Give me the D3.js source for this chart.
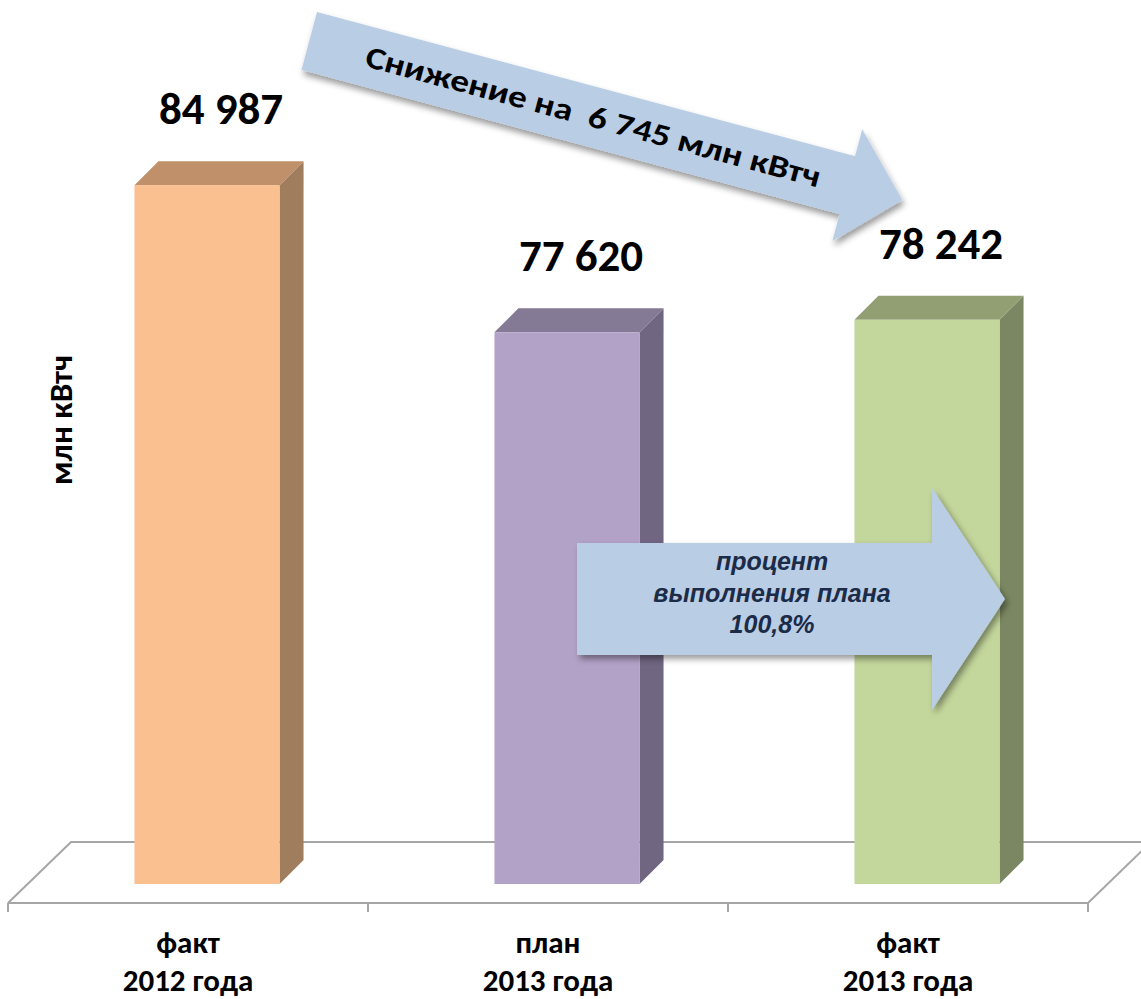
<!DOCTYPE html>
<html>
<head>
<meta charset="utf-8">
<script src="https://cdn.jsdelivr.net/npm/d3@7"></script>
<style>
  html, body { margin: 0; padding: 0; background: #ffffff; }
  svg { display: block; }
</style>
</head>
<body>
<svg id="chart" width="1141" height="999"></svg>
<script>
// ---------- data ----------
const categoriesLine1 = ["факт", "план", "факт"];
const categoriesLine2 = ["2012 года", "2013 года", "2013 года"];
const values = [84987, 77620, 78242];
const frontColors = ["#FAC090", "#B3A2C7", "#C3D69B"];
const topColors   = ["#BF9069", "#857A96", "#929F73"];
const sideColors  = ["#A07D5C", "#706682", "#7B8762"];
const axisTitle = "млн кВтч";
const decreaseText = "Снижение на  6 745 млн кВтч";
const planTextLines = ["процент", "выполнения плана", "100,8%"];
const yDomain = [50000, 90000];

// ---------- layout ----------
const svg = d3.select("#chart");
const floorFrontY = 903, floorDepth = 61;     // floor parallelogram
const barDepthFront = 19, barDepth = 24;      // bars sit inside the floor depth
const fontMain = "Carlito, Calibri, 'Open Sans', 'DejaVu Sans', sans-serif";

const xCat = d3.scaleBand().domain(d3.range(categoriesLine1.length)).range([8, 1088]).padding(0);
const barW = xCat.bandwidth() * 0.403;
const y = d3.scaleLinear().domain(yDomain).range([floorFrontY - barDepthFront, 85]);

const defs = svg.append("defs");
const sh = defs.append("filter").attr("id", "shadow")
  .attr("x", "-10%").attr("y", "-20%").attr("width", "130%").attr("height", "150%");
sh.append("feDropShadow").attr("dx", 3).attr("dy", 4).attr("stdDeviation", 3)
  .attr("flood-color", "#000").attr("flood-opacity", 0.4);

// ---------- floor ----------
const floorG = svg.append("g").attr("fill", "none").attr("stroke", "#A6A6A6").attr("stroke-width", 2);
const x0 = xCat.range()[0], x1 = xCat.range()[1];
floorG.append("path").attr("d", d3.line()([
  [x0, floorFrontY], [x0 + floorDepth + 2, floorFrontY - floorDepth],
  [x1 + floorDepth + 2, floorFrontY - floorDepth], [x1, floorFrontY], [x0, floorFrontY]
]));
const bounds = xCat.domain().map(d => xCat(d)).concat([x1]);
floorG.selectAll("line.tick").data(bounds).enter().append("line")
  .attr("x1", d => d).attr("x2", d => d)
  .attr("y1", floorFrontY).attr("y2", floorFrontY + 9);

// ---------- bars ----------
const barsG = svg.append("g");
values.forEach((v, i) => {
  const xl = xCat(i) + barDepthFront + (xCat.bandwidth() - barW) / 2;
  const xr = xl + barW;
  const yt = y(v), yb = y(yDomain[0]);
  const d = barDepth;
  barsG.append("path").attr("fill", sideColors[i])
    .attr("d", d3.line()([[xr, yb], [xr + d, yb - d], [xr + d, yt - d], [xr, yt]]) + "Z");
  barsG.append("path").attr("fill", topColors[i])
    .attr("d", d3.line()([[xl, yt], [xl + d, yt - d], [xr + d, yt - d], [xr, yt]]) + "Z");
  barsG.append("rect").attr("fill", frontColors[i])
    .attr("x", xl).attr("y", yt).attr("width", barW).attr("height", yb - yt);
});

// ---------- value labels ----------
const fmt = d3.formatLocale({ decimal: ",", thousands: " ", grouping: [3], currency: ["", ""] }).format(",d");
svg.append("g").selectAll("text").data(values).enter().append("text")
  .attr("x", (v, i) => xCat(i) + barDepthFront + xCat.bandwidth() / 2 + 14)
  .attr("y", v => y(v) - 61)
  .attr("text-anchor", "middle")
  .attr("font-family", fontMain).attr("font-weight", "bold").attr("font-size", 45)
  .attr("fill", "#000")
  .text(v => fmt(v));

// ---------- category labels ----------
const catG = svg.append("g").attr("font-family", fontMain).attr("font-weight", "bold")
  .attr("font-size", 31).attr("fill", "#000").attr("text-anchor", "middle");
categoriesLine1.forEach((c, i) => {
  const cx = xCat(i) + xCat.bandwidth() / 2;
  catG.append("text").attr("x", cx).attr("y", 953).text(c);
  catG.append("text").attr("x", cx).attr("y", 991).text(categoriesLine2[i]);
});

// ---------- axis title ----------
svg.append("text")
  .attr("transform", "translate(72,420) rotate(-90)")
  .attr("text-anchor", "middle")
  .attr("font-family", fontMain).attr("font-weight", "bold").attr("font-size", 33)
  .attr("fill", "#000").text(axisTitle);

// ---------- diagonal arrow ----------
const a1 = svg.append("g").attr("transform", "translate(317,12) rotate(15)");
a1.append("path").attr("fill", "#B9CDE5").attr("filter", "url(#shadow)")
  .attr("d", d3.line()([[0, 0], [557, 0], [557, -28], [614, 30], [557, 88], [557, 60], [0, 60]]) + "Z");
a1.append("text").attr("x", 294).attr("y", 40).attr("text-anchor", "middle")
  .attr("font-family", fontMain).attr("font-weight", "bold").attr("font-size", 31)
  .attr("textLength", 470).attr("lengthAdjust", "spacingAndGlyphs")
  .attr("fill", "#000").style("white-space", "pre").text(decreaseText);

// ---------- horizontal arrow ----------
const a2 = svg.append("g");
a2.append("path").attr("fill", "#B9CDE5").attr("filter", "url(#shadow)")
  .attr("d", d3.line()([[577, 543], [932, 543], [932, 488], [1005, 599], [932, 710], [932, 655], [577, 655]]) + "Z");
a2.selectAll("text").data(planTextLines).enter().append("text")
  .attr("x", 772).attr("y", (d, i) => 570 + i * 31.5)
  .attr("text-anchor", "middle")
  .attr("font-family", "'Liberation Sans', Arial, sans-serif")
  .attr("font-weight", "bold").attr("font-style", "italic").attr("font-size", 25)
  .attr("fill", "#1C2B47").text(d => d);
</script>
</body>
</html>
